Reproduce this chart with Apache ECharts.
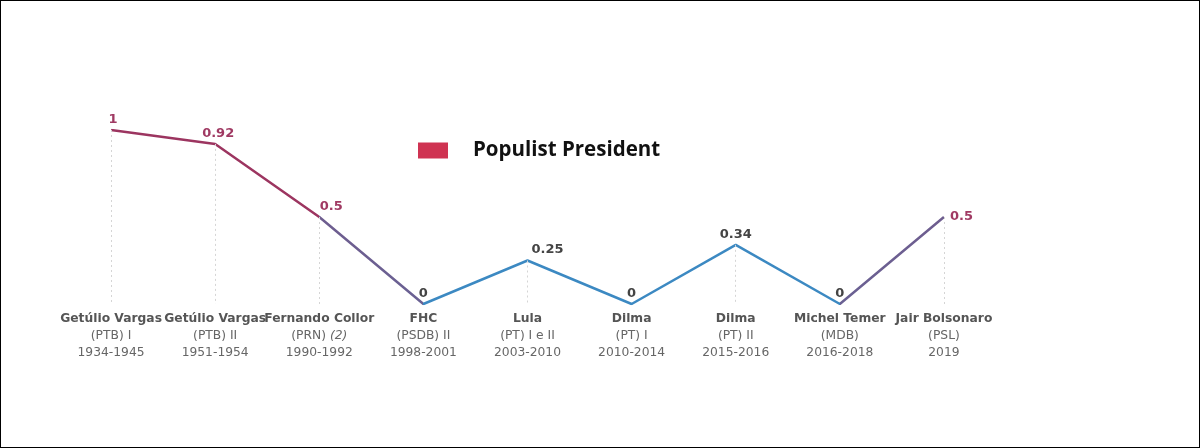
<!DOCTYPE html>
<html>
<head>
<meta charset="utf-8">
<script src="https://cdn.jsdelivr.net/npm/echarts@6/dist/echarts.min.js"></script>
<style>
  html, body { margin: 0; padding: 0; background: #fff; }
  #chart { width: 1198px; height: 446px; border: 1px solid #000; }
</style>
</head>
<body>
<div id="chart"></div>
<script>
// Populism score by presidential term in Brazil
const presidents = ['Getúlio Vargas', 'Getúlio Vargas', 'Fernando Collor', 'FHC', 'Lula', 'Dilma', 'Dilma', 'Michel Temer', 'Jair Bolsonaro'];
const parties = ['(PTB) I', '(PTB) II', '(PRN) ', '(PSDB) II', '(PT) I e II', '(PT) I', '(PT) II', '(MDB)', '(PSL)'];
const notes = ['', '', '(2)', '', '', '', '', '', ''];
const terms = ['1934-1945', '1951-1954', '1990-1992', '1998-2001', '2003-2010', '2010-2014', '2015-2016', '2016-2018', '2019'];
const scores = [1, 0.92, 0.5, 0, 0.25, 0, 0.34, 0, 0.5];
const populist = [true, true, true, false, false, false, false, false, true];

const RED = '#9c3560';
const BLUE = '#3c89c2';
const LABEL_RED = '#a03a63';
const LABEL_GRAY = '#444';

const labelTweaks = {
  0: { offset: [2, 0] },
  1: { offset: [3, 0] },
  2: { offset: [12, 0] },
  4: { offset: [20, 0] },
  8: { position: 'right', distance: 6 }
};

const lineData = scores.map((v, i) => ({
  value: [i, v],
  label: Object.assign({ color: populist[i] ? LABEL_RED : LABEL_GRAY }, labelTweaks[i] || {})
}));

const dropLines = scores.map((v, i) => [
  { coord: [i, v] },
  { coord: [i, 0] }
]);

const chart = echarts.init(document.getElementById('chart'));
chart.setOption({
  animation: false,
  grid: { left: 58, right: 203, top: 129, bottom: 143 },
  legend: {
    left: 412,
    top: 134,
    icon: 'rect',
    itemWidth: 30,
    itemHeight: 16,
    data: [{ name: 'Populist President', itemStyle: { color: '#cf3352' } }],
    textStyle: {
      fontFamily: 'Open Sans',
      fontWeight: 'bold',
      fontSize: 20.5,
      color: '#111',
      padding: [0, 0, 0, 20]
    }
  },
  visualMap: {
    show: false,
    type: 'continuous',
    dimension: 0,
    seriesIndex: 0,
    min: 0,
    max: scores.length - 1,
    inRange: { color: populist.map(p => p ? RED : BLUE) }
  },
  xAxis: {
    type: 'category',
    data: presidents.map((_, i) => i),
    boundaryGap: true,
    axisLine: { show: false },
    axisTick: { show: false },
    splitLine: { show: false },
    axisLabel: {
      margin: 6,
      interval: 0,
      formatter: (val) => {
        const i = Number(val);
        const party = notes[i] ? `{n|${parties[i]}}{i|${notes[i]}}` : `{n|${parties[i]}}`;
        return `{b|${presidents[i]}}\n${party}\n{n|${terms[i]}}`;
      },
      rich: {
        b: { fontFamily: 'DejaVu Sans', fontWeight: 'bold', fontSize: 12.3, color: '#555', lineHeight: 17 },
        n: { fontFamily: 'DejaVu Sans', fontSize: 12.3, color: '#666', lineHeight: 17 },
        i: { fontFamily: 'DejaVu Sans', fontStyle: 'italic', fontSize: 12.3, color: '#666', lineHeight: 17 }
      }
    }
  },
  yAxis: {
    type: 'value',
    min: 0,
    max: 1,
    show: false,
    splitLine: { show: false }
  },
  series: [{
    name: 'Populist President',
    type: 'line',
    data: lineData,
    showSymbol: true,
    symbol: 'circle',
    symbolSize: 0.1,
    lineStyle: { width: 2.5 },
    label: {
      show: true,
      position: 'top',
      distance: 4,
      fontFamily: 'DejaVu Sans',
      fontWeight: 'bold',
      fontSize: 13,
      formatter: (p) => String(p.value[1])
    },
    markLine: {
      silent: true,
      symbol: 'none',
      label: { show: false },
      lineStyle: { color: '#d5d5d5', type: [2, 3], width: 1 },
      data: dropLines
    },
    z: 3
  }]
});
</script>
</body>
</html>
